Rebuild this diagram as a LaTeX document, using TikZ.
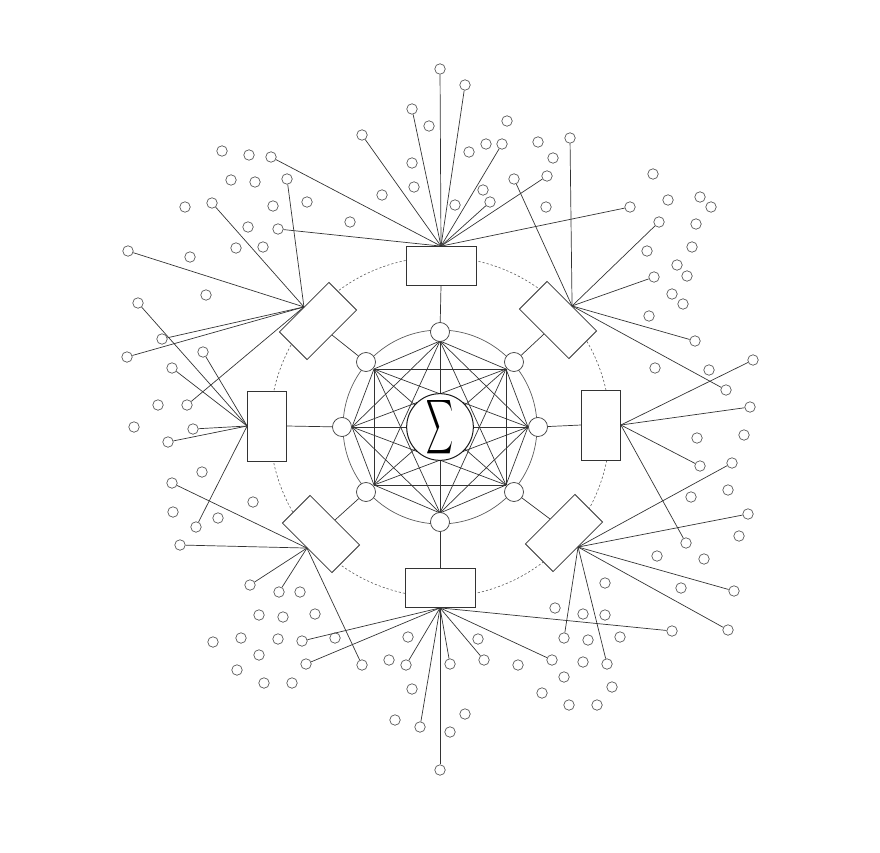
\documentclass[tikz,border=0pt]{standalone}
\usepackage{graphicx}
\newcommand\myfan[3]{%
  \foreach \x/\y [count=\i] in {#3} {%
    \node[leaf] (#2\i) at (\x,\y) {};
    \draw[wire] (#1.north) -- (#2\i);
  }%
}
\begin{document}
\begin{tikzpicture}[x=1pt,y=-1pt,
  leaf/.style={circle,draw=black!70,line width=0.65pt,minimum size=10.5pt,inner sep=0pt},
  inode/.style={circle,draw=black!75,fill=white,line width=0.75pt,minimum size=19pt,inner sep=0pt},
  hub/.style={rectangle,draw=black!80,fill=white,line width=0.75pt,minimum width=70pt,minimum height=39pt,inner sep=0pt},
  wire/.style={draw=black!80,line width=0.7pt},
  ring/.style={draw=black!65,line width=0.7pt}]
\useasboundingbox (0,0) rectangle (880,853);
\coordinate (c) at (440,427);
% dashed ring and inner ring
\draw[black!65,line width=0.6pt,dash pattern=on 2.2pt off 2pt] (c) circle[radius=170];
\draw[ring] (c) circle[radius=97];
% complete graph vertices
\coordinate (g1) at (440,341);
\coordinate (g2) at (506,369);
\coordinate (g3) at (528,427);
\coordinate (g4) at (506,485);
\coordinate (g5) at (440,513);
\coordinate (g6) at (374,485);
\coordinate (g7) at (352,427);
\coordinate (g8) at (374,369);
\foreach \i in {1,...,7} {
  \pgfmathtruncatemacro\k{\i+1}
  \foreach \j in {\k,...,8} { \draw[wire] (g\i) -- (g\j); }
}
% inner nodes
\node[inode] (n1) at (440,332) {};
\node[inode] (n2) at (514,362) {};
\node[inode] (n3) at (538,427) {};
\node[inode] (n4) at (514,492) {};
\node[inode] (n5) at (440,522) {};
\node[inode] (n6) at (366,492) {};
\node[inode] (n7) at (342,427) {};
\node[inode] (n8) at (366,362) {};
% hubs (north anchor points outward)
\node[hub] (h1) at (441,266) {};
\node[hub,rotate=-45] (h2) at (558,320) {};
\node[hub,rotate=-90] (h3) at (601,425) {};
\node[hub,rotate=-135] (h4) at (564,533) {};
\node[hub,rotate=180] (h5) at (440,588) {};
\node[hub,rotate=135] (h6) at (321,534) {};
\node[hub,rotate=90] (h7) at (267,426) {};
\node[hub,rotate=45] (h8) at (318,321) {};
\foreach \i in {1,...,8} { \draw[wire] (n\i) -- (h\i.south); }
% fans
\myfan{h1}{lt}{440/69, 465/85, 412/109, 362/135, 502/144, 490/202, 547/176, 630/207, 271/157, 278/229}
\myfan{h8}{ltl}{128/251, 212/203, 287/179, 162/339, 127/357, 187/405}
\myfan{h7}{ll}{138/303, 203/352, 172/368, 193/429, 168/442, 196/527}
\myfan{h6}{lbl}{180/545, 172/483, 250/585, 279/592, 362/665}
\myfan{h5}{lb}{302/641, 306/664, 406/665, 420/727, 440/770, 450/664, 484/660, 552/660, 672/631}
\myfan{h4}{lbr}{732/463, 748/514, 734/591, 728/630, 564/638, 607/664}
\myfan{h3}{lr}{753/360, 750/407, 700/466, 686/543}
\myfan{h2}{ltr}{514/179, 570/138, 659/222, 654/277, 695/341, 726/390}
% free leaves
\foreach \x/\y [count=\i] in {429/126, 507/121, 486/144, 469/152, 412/163, 414/187, 382/195, 455/205, 483/190, 538/142, 553/158, 546/207, 350/222,
  222/151, 249/155, 231/180, 255/182, 185/207, 273/206, 307/202, 248/227, 236/248, 263/247, 190/257, 206/295,
  158/405, 134/427, 202/472, 173/512, 218/518, 253/502,
  653/174, 668/200, 700/197, 711/207, 696/224, 647/251, 692/247, 677/265, 687/276, 672/294, 683/304, 649/316, 655/368, 709/370,
  697/438, 744/435, 691/497, 728/490, 739/536, 657/556, 704/559, 681/588, 605/583, 605/615, 620/637, 583/614, 555/608, 588/640,
  583/662, 564/677, 542/693, 612/687, 569/705, 597/705, 518/665, 478/639, 465/714, 450/732,
  300/592, 259/615, 283/617, 315/614, 213/642, 241/638, 278/639, 335/638, 259/655, 237/670, 264/683, 292/683, 408/637, 389/660, 412/689, 395/720}
  { \node[leaf] (f\i) at (\x,\y) {}; }
% centre
\node[circle,draw=black!90,fill=white,line width=1pt,minimum size=57pt,inner sep=0pt] (sig) at (c)
  {\resizebox{27pt}{40pt}{$\displaystyle\sum$}};
\end{tikzpicture}
\end{document}
